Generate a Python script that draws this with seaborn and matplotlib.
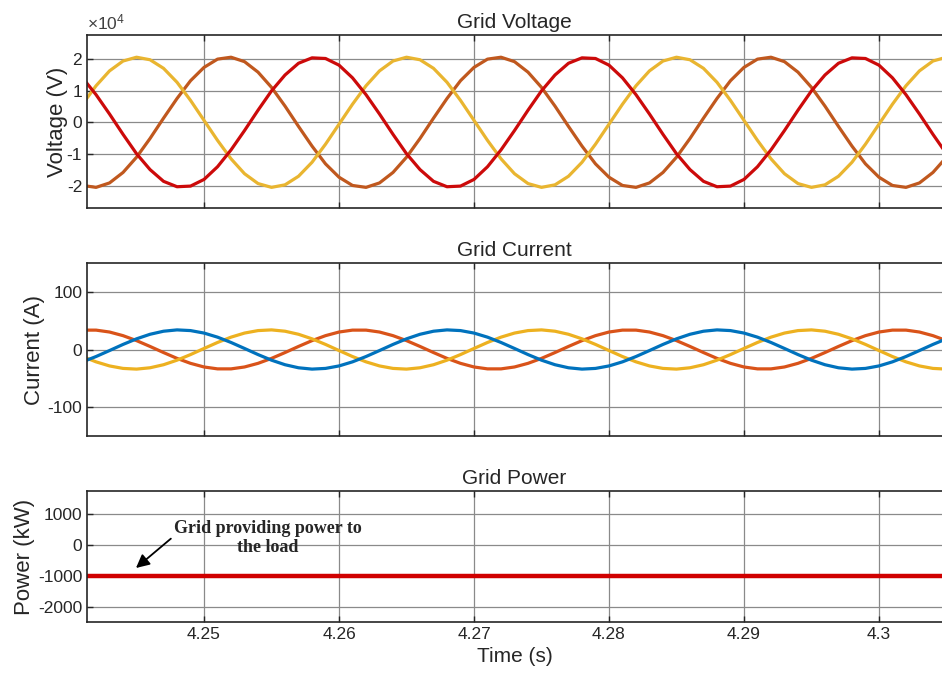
"""
Grid voltage / current / power waveforms
"""

import numpy as np
import matplotlib
matplotlib.use("Agg")
import matplotlib.pyplot as plt
import seaborn as sns

# sample times (1 ms step)
time = np.round(4.241 + 0.001 * np.arange(65), 3)

# one value per sample
v_red = [14000, 8700, 2600, -3800, -9900, -14900, -18600, -20300, -20100, -18000,
         -14000, -8700, -2600, 3800, 9900, 14900, 18600, 20300, 20100, 18000,
         14000, 8700, 2600, -3800, -9900, -14900, -18600, -20300, -20100, -18000,
         -14000, -8700, -2600, 3800, 9900, 14900, 18600, 20300, 20100, 18000,
         14000, 8700, 2600, -3800, -9900, -14900, -18600, -20300, -20100, -18000,
         -14000, -8700, -2600, 3800, 9900, 14900, 18600, 20300, 20100, 18000,
         14000, 8700, 2600, -3800, -9900]
v_brown = [-19900, -20500, -19100, -15800, -11000, -5100, 1300, 7500, 13100, 17300,
           19900, 20500, 19100, 15800, 11000, 5100, -1300, -7500, -13100, -17300,
           -19900, -20500, -19100, -15800, -11000, -5100, 1300, 7500, 13100, 17300,
           19900, 20500, 19100, 15800, 11000, 5100, -1300, -7500, -13100, -17300,
           -19900, -20500, -19100, -15800, -11000, -5100, 1300, 7500, 13100, 17300,
           19900, 20500, 19100, 15800, 11000, 5100, -1300, -7500, -13100, -17300,
           -19900, -20500, -19100, -15800, -11000]
v_yellow = [5700, 11500, 16200, 19300, 20500, 19700, 17000, 12600, 6900, 600,
            -5700, -11500, -16200, -19300, -20500, -19700, -17000, -12600, -6900, -600,
            5700, 11500, 16200, 19300, 20500, 19700, 17000, 12600, 6900, 600,
            -5700, -11500, -16200, -19300, -20500, -19700, -17000, -12600, -6900, -600,
            5700, 11500, 16200, 19300, 20500, 19700, 17000, 12600, 6900, 600,
            -5700, -11500, -16200, -19300, -20500, -19700, -17000, -12600, -6900, -600,
            5700, 11500, 16200, 19300, 20500]

i_orange = [33.6, 33.6, 30.3, 24.0, 15.4, 5.3, -5.3, -15.4, -24.0, -30.3,
            -33.6, -33.6, -30.3, -24.0, -15.4, -5.3, 5.3, 15.4, 24.0, 30.3,
            33.6, 33.6, 30.3, 24.0, 15.4, 5.3, -5.3, -15.4, -24.0, -30.3,
            -33.6, -33.6, -30.3, -24.0, -15.4, -5.3, 5.3, 15.4, 24.0, 30.3,
            33.6, 33.6, 30.3, 24.0, 15.4, 5.3, -5.3, -15.4, -24.0, -30.3,
            -33.6, -33.6, -30.3, -24.0, -15.4, -5.3, 5.3, 15.4, 24.0, 30.3,
            33.6, 33.6, 30.3, 24.0, 15.4]
i_blue = [-21.4, -12.2, -1.8, 8.8, 18.5, 26.4, 31.7, 34.0, 32.8, 28.5,
          21.4, 12.2, 1.8, -8.8, -18.5, -26.4, -31.7, -34.0, -32.8, -28.5,
          -21.4, -12.2, -1.8, 8.8, 18.5, 26.4, 31.7, 34.0, 32.8, 28.5,
          21.4, 12.2, 1.8, -8.8, -18.5, -26.4, -31.7, -34.0, -32.8, -28.5,
          -21.4, -12.2, -1.8, 8.8, 18.5, 26.4, 31.7, 34.0, 32.8, 28.5,
          21.4, 12.2, 1.8, -8.8, -18.5, -26.4, -31.7, -34.0, -32.8, -28.5,
          -21.4, -12.2, -1.8, 8.8, 18.5]
i_yellow = [-12.2, -21.4, -28.5, -32.8, -34.0, -31.7, -26.4, -18.5, -8.8, 1.8,
            12.2, 21.4, 28.5, 32.8, 34.0, 31.7, 26.4, 18.5, 8.8, -1.8,
            -12.2, -21.4, -28.5, -32.8, -34.0, -31.7, -26.4, -18.5, -8.8, 1.8,
            12.2, 21.4, 28.5, 32.8, 34.0, 31.7, 26.4, 18.5, 8.8, -1.8,
            -12.2, -21.4, -28.5, -32.8, -34.0, -31.7, -26.4, -18.5, -8.8, 1.8,
            12.2, 21.4, 28.5, 32.8, 34.0, 31.7, 26.4, 18.5, 8.8, -1.8,
            -12.2, -21.4, -28.5, -32.8, -34.0]

power_time = [4.241, 4.305]
power_kw = [-1000, -1000]

x_ticks = [4.25, 4.26, 4.27, 4.28, 4.29, 4.30]
x_labels = ["4.25", "4.26", "4.27", "4.28", "4.29", "4.3"]
v_ticks = [-20000, -10000, 0, 10000, 20000]
v_labels = ["-2", "-1", "0", "1", "2"]

sns.set_style("white")
plt.rcParams["font.family"] = ["Liberation Sans", "DejaVu Sans"]
plt.rcParams["mathtext.default"] = "regular"
plt.rcParams["axes.unicode_minus"] = False

W, H = 942, 679
fig = plt.figure(figsize=(W / 100, H / 100), dpi=100)


def make_axes(top_px, bottom_px):
    left = 87 / W
    return fig.add_axes([left, 1 - bottom_px / H, 1 - left, (bottom_px - top_px) / H])


ax_v = make_axes(35, 208)
ax_i = make_axes(263, 436)
ax_p = make_axes(491, 622)

# voltage
sns.lineplot(x=time, y=v_brown, color="#C0581E", lw=2.3, ax=ax_v)
sns.lineplot(x=time, y=v_yellow, color="#E9B530", lw=2.3, ax=ax_v)
sns.lineplot(x=time, y=v_red, color="#CC0A0A", lw=2.3, ax=ax_v)
ax_v.set_ylim(-27000, 27500)
ax_v.set_yticks(v_ticks)
ax_v.set_yticklabels(v_labels)
ax_v.text(0.0, 1.015, r"$\times10^{4}$", transform=ax_v.transAxes, ha="left", va="bottom",
          fontsize=12.5, color="#404040")
ax_v.set_ylabel("Voltage (V)", fontsize=16, labelpad=-1)
ax_v.set_title("Grid Voltage", fontsize=15, pad=5)

# current
sns.lineplot(x=time, y=i_orange, color="#D95319", lw=2.3, ax=ax_i)
sns.lineplot(x=time, y=i_yellow, color="#EDB120", lw=2.3, ax=ax_i)
sns.lineplot(x=time, y=i_blue, color="#0072BD", lw=2.3, ax=ax_i)
ax_i.set_ylim(-150, 150)
ax_i.set_yticks([-100, 0, 100])
ax_i.set_ylabel("Current (A)", fontsize=16, labelpad=2)
ax_i.set_title("Grid Current", fontsize=15, pad=5)

# power
sns.lineplot(x=power_time, y=power_kw, color="#D00000", lw=3.2, ax=ax_p)
ax_p.set_ylim(-2500, 1750)
ax_p.set_yticks([-2000, -1000, 0, 1000])
ax_p.set_ylabel("Power (kW)", fontsize=16, labelpad=2)
ax_p.set_title("Grid Power", fontsize=15, pad=5)
ax_p.set_xlabel("Time (s)", fontsize=15, labelpad=4)

ax_p.text(4.2547, 230, "Grid providing power to\nthe load", ha="center", va="center",
          fontsize=13, fontweight="bold", family=["Liberation Serif", "DejaVu Serif"],
          linespacing=1.2)
ax_p.annotate("", xy=(4.2448, -806), xytext=(4.2477, 262),
              arrowprops=dict(arrowstyle="-|>", color="black", lw=1.3, mutation_scale=20))

for ax in (ax_v, ax_i, ax_p):
    ax.set_xlim(4.24133, 4.30467)
    ax.set_xticks(x_ticks)
    ax.grid(True, color="#8a8a8a", lw=0.9)
    ax.set_axisbelow(True)
    ax.tick_params(direction="in", length=4, width=1, colors="#262626",
                   labelsize=12.5, top=True, right=False, left=True, bottom=True)
    for side in ("left", "top", "bottom"):
        ax.spines[side].set_color("#262626")
        ax.spines[side].set_linewidth(1.2)
    ax.spines["right"].set_visible(False)

ax_v.set_xticklabels([])
ax_i.set_xticklabels([])
ax_p.set_xticklabels(x_labels)

fig.savefig("out.png", dpi=100)
